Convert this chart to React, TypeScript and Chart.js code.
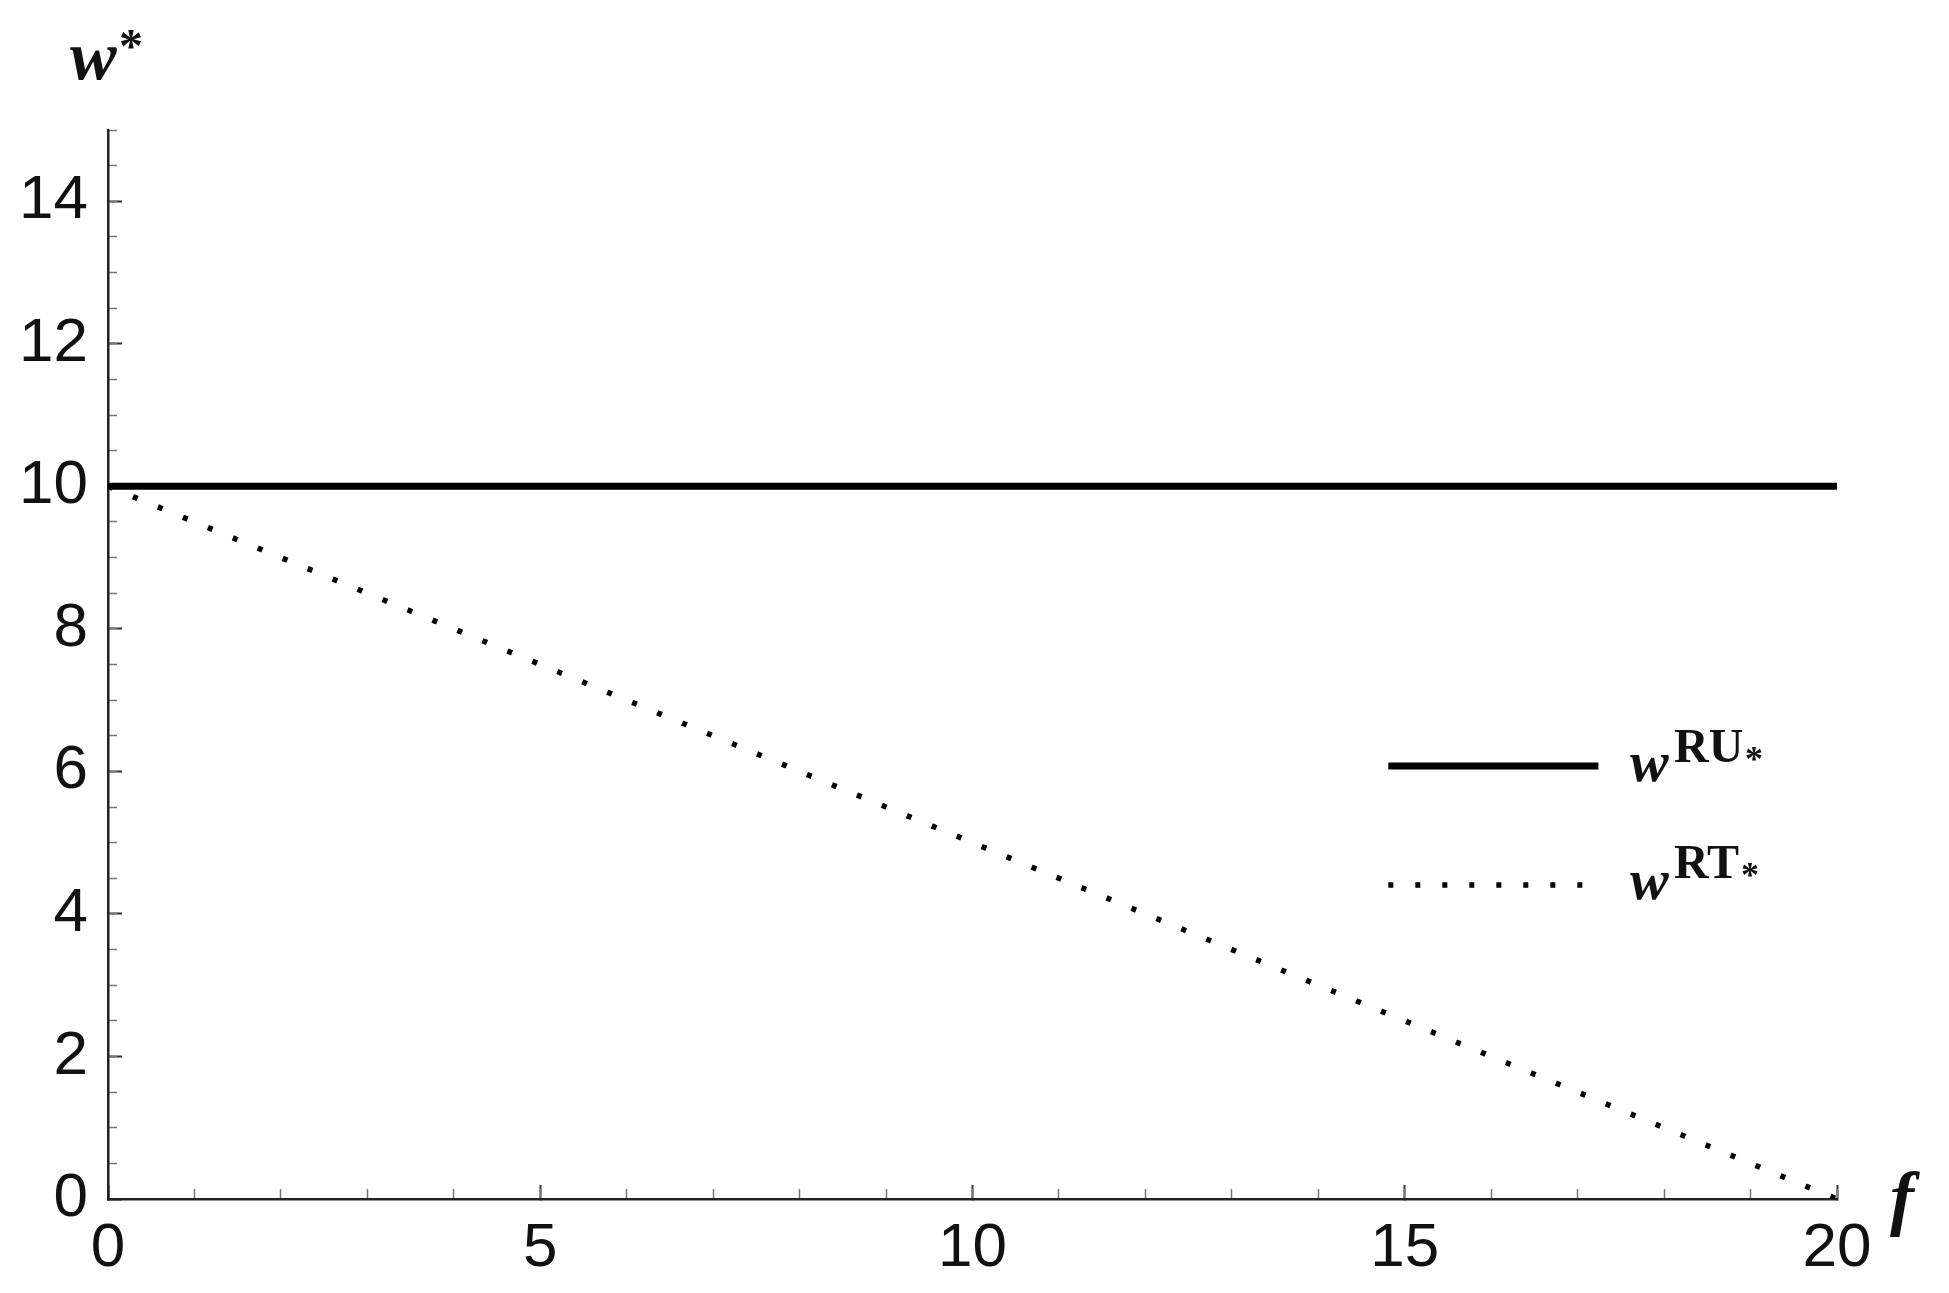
import React, { useEffect, useRef } from 'react';
import { Chart, registerables } from 'chart.js';

Chart.register(...registerables);

// ---- data ----
const fValues = [0, 20];
const wRU = [10, 10];
const wRT = [10, 0];
const xMajorTicks = [0, 5, 10, 15, 20];
const yMajorTicks = [0, 2, 4, 6, 8, 10, 12, 14];
const seriesNames = ['RU', 'RT'];

// legend sample placement (in data units)
const legendX0 = 14.81;
const legendX1 = [17.24, 17.08];
const legendY = [6.075, 4.405];

const W = 1949;
const H = 1293;

const legendPlugin = {
  id: 'legendSamples',
  afterDatasetsDraw(chart: any) {
    const { ctx } = chart;
    const xs = chart.scales.x;
    const ys = chart.scales.y;
    chart.data.datasets.forEach((ds: any, i: number) => {
      const yy = ys.getPixelForValue(legendY[i]);
      ctx.save();
      ctx.strokeStyle = ds.borderColor;
      ctx.lineWidth = ds.borderWidth;
      ctx.lineCap = 'butt';
      ctx.setLineDash(ds.borderDash || []);
      ctx.beginPath();
      ctx.moveTo(xs.getPixelForValue(legendX0), yy);
      ctx.lineTo(xs.getPixelForValue(legendX1[i]), yy);
      ctx.stroke();
      ctx.restore();
    });
  },
};

const serif = '"Liberation Serif", "Times New Roman", Times, serif';

function Txt(props: {
  x: number;
  base: number;
  size: number;
  italic?: boolean;
  bold?: boolean;
  children: React.ReactNode;
}) {
  const { x, base, size, italic, bold, children } = props;
  return (
    <span
      style={{
        position: 'absolute',
        left: x,
        top: base - 0.3375 * size,
        lineHeight: '0px',
        fontFamily: serif,
        fontSize: size,
        fontStyle: italic ? 'italic' : 'normal',
        fontWeight: bold ? 'bold' : 'normal',
        color: '#111',
        whiteSpace: 'nowrap',
      }}
    >
      {children}
    </span>
  );
}

export default function App() {
  const canvasRef = useRef<HTMLCanvasElement | null>(null);

  useEffect(() => {
    const canvas = canvasRef.current;
    if (!canvas) return;
    const tickFont = { family: '"Liberation Sans", Arial, sans-serif', size: 62 };
    const chart = new Chart(canvas, {
      type: 'line',
      data: {
        datasets: [
          {
            label: 'wRU*',
            data: fValues.map((f, i) => ({ x: f, y: wRU[i] })),
            borderColor: '#000',
            borderWidth: 7,
            pointRadius: 0,
            fill: false,
            tension: 0,
            order: 0,
          },
          {
            label: 'wRT*',
            data: fValues.map((f, i) => ({ x: f, y: wRT[i] })),
            borderColor: '#000',
            borderWidth: 5.5,
            borderDash: [5, 22],
            borderCapStyle: 'butt',
            pointRadius: 0,
            fill: false,
            tension: 0,
            order: 1,
          },
        ],
      } as any,
      options: {
        responsive: false,
        animation: false,
        devicePixelRatio: 1,
        layout: { padding: { left: 0, top: 130, right: 112, bottom: 0 } },
        plugins: {
          legend: { display: false },
          tooltip: { enabled: false },
        },
        scales: {
          x: {
            type: 'linear',
            position: 'bottom',
            weight: 1,
            min: 0,
            max: 20,
            afterBuildTicks: (s: any) => {
              s.ticks = xMajorTicks.map((value) => ({ value }));
            },
            afterFit: (s: any) => {
              s.height = 94;
            },
            ticks: {
              font: tickFont,
              color: '#111',
              padding: 27,
              maxRotation: 0,
              autoSkip: false,
            },
            grid: {
              drawOnChartArea: false,
              tickLength: -14,
              tickWidth: 2,
              tickColor: '#333',
            },
            border: { color: '#222', width: 2.5 },
          },
          x2: {
            type: 'linear',
            position: 'bottom',
            weight: 0,
            min: 0,
            max: 20,
            ticks: { display: false, stepSize: 1, autoSkip: false },
            afterFit: (s: any) => {
              s.height = 0;
            },
            grid: {
              drawOnChartArea: false,
              tickLength: -10,
              tickWidth: 1.5,
              tickColor: '#777',
            },
            border: { display: false },
          },
          y: {
            type: 'linear',
            position: 'left',
            weight: 1,
            min: 0,
            max: 15,
            afterBuildTicks: (s: any) => {
              s.ticks = yMajorTicks.map((value) => ({ value }));
            },
            afterFit: (s: any) => {
              s.width = 108;
            },
            ticks: {
              font: tickFont,
              color: '#111',
              padding: 34,
              autoSkip: false,
            },
            grid: {
              drawOnChartArea: false,
              tickLength: -14,
              tickWidth: 2,
              tickColor: '#333',
            },
            border: { color: '#222', width: 2.5 },
          },
          y2: {
            type: 'linear',
            position: 'left',
            weight: 0,
            min: 0,
            max: 15,
            ticks: { display: false, stepSize: 0.5, autoSkip: false },
            afterFit: (s: any) => {
              s.width = 0;
            },
            grid: {
              drawOnChartArea: false,
              tickLength: -9,
              tickWidth: 1.5,
              tickColor: '#777',
            },
            border: { display: false },
          },
        },
      } as any,
      plugins: [legendPlugin],
    });
    return () => chart.destroy();
  }, []);

  return (
    <div
      style={{
        position: 'fixed',
        left: 0,
        top: 0,
        width: W,
        height: H,
        background: '#fff',
        overflow: 'hidden',
      }}
    >
      <canvas ref={canvasRef} width={W} height={H} style={{ width: W, height: H, display: 'block' }} />
      {/* y-axis title w* */}
      <Txt x={70} base={80} size={70} italic bold>w</Txt>
      <Txt x={119} base={62} size={48} bold>*</Txt>
      {/* x-axis title f */}
      <Txt x={1890} base={1222} size={72} italic bold>f</Txt>
      {/* legend labels */}
      <Txt x={1630} base={782} size={58} italic bold>w</Txt>
      <Txt x={1674} base={762} size={48} bold>{seriesNames[0]}</Txt>
      <Txt x={1745} base={771} size={36} bold>*</Txt>
      <Txt x={1630} base={900} size={58} italic bold>w</Txt>
      <Txt x={1674} base={878} size={48} bold>{seriesNames[1]}</Txt>
      <Txt x={1741} base={887} size={36} bold>*</Txt>
    </div>
  );
}
